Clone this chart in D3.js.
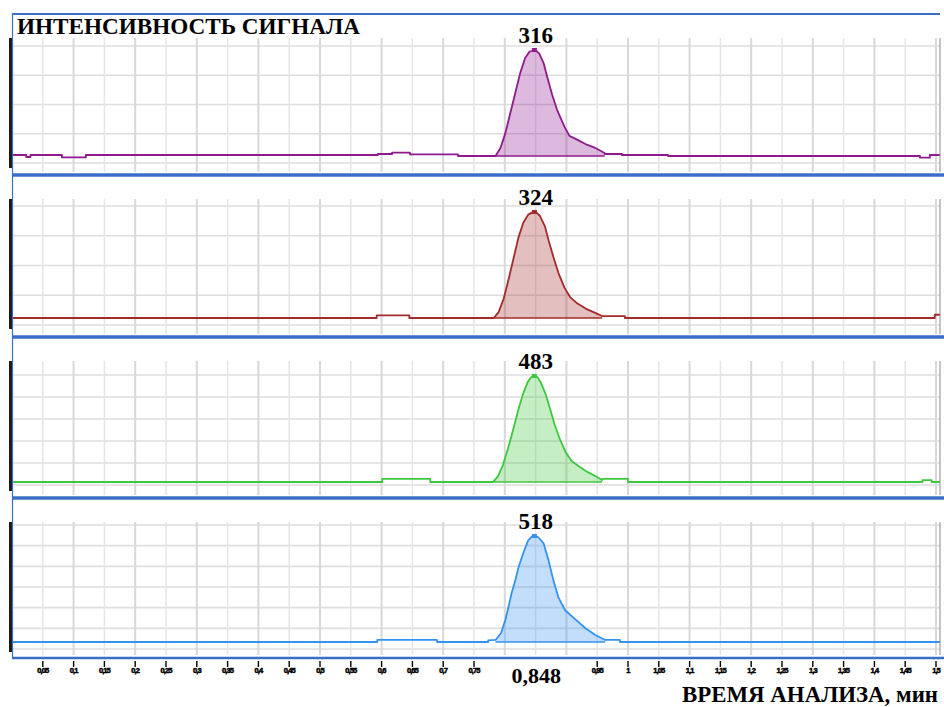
<!DOCTYPE html>
<html>
<head>
<meta charset="utf-8">
<script src="https://cdn.jsdelivr.net/npm/d3@7"></script>
<style>
  html, body { margin: 0; padding: 0; background: #fff; }
  svg { display: block; }
</style>
</head>
<body>
<svg id="chart" width="944" height="707"></svg>
<script>
// ---- data ---------------------------------------------------------------
const chartTitle = "ИНТЕНСИВНОСТЬ СИГНАЛА";
const axisTitle = "ВРЕМЯ АНАЛИЗА, мин";

const peakTime = 0.848;
const peakTimeLabel = "0,848";

const peakLabels = ["316", "324", "483", "518"];
const peakValues = [316, 324, 483, 518];

// integration window of the peak in each trace, min
const peakStarts = [0.785, 0.782, 0.781, 0.785];
const peakEnds   = [0.962, 0.958, 0.958, 0.963];

const xTicks = [0.05, 0.1, 0.15, 0.2, 0.25, 0.3, 0.35, 0.4, 0.45, 0.5,
                0.55, 0.6, 0.65, 0.7, 0.75, 0.8, 0.85, 0.9, 0.95, 1.0,
                1.05, 1.1, 1.15, 1.2, 1.25, 1.3, 1.35, 1.4, 1.45, 1.5];
const xTickLabels = ["0,05", "0,1", "0,15", "0,2", "0,25", "0,3", "0,35", "0,4", "0,45", "0,5",
                     "0,55", "0,6", "0,65", "0,7", "0,75", "0,8", "0,85", "0,9", "0,95", "1",
                     "1,05", "1,1", "1,15", "1,2", "1,25", "1,3", "1,35", "1,4", "1,45", "1,5"];

// traces: [time, intensity]
const trace316 = [
  [0, 3], [0.023, 3], [0.023, -3], [0.030, -3], [0.030, 3], [0.081, 3], [0.081, -4], [0.120, -4],
  [0.120, 3], [0.594, 3], [0.594, 6], [0.617, 6], [0.617, 10], [0.646, 10], [0.646, 5], [0.724, 5],
  [0.724, 0], [0.785, 0], [0.793, 24], [0.801, 69], [0.809, 128], [0.817, 188], [0.825, 247],
  [0.833, 292], [0.840, 311], [0.844, 313], [0.848, 316], [0.852, 312], [0.856, 305], [0.863, 277],
  [0.869, 235], [0.877, 182], [0.885, 137], [0.897, 87], [0.905, 60], [0.918, 48], [0.934, 33],
  [0.947, 24], [0.962, 9], [0.962, 6], [0.990, 6], [0.990, 3], [1.065, 3], [1.065, 0], [1.474, 0],
  [1.474, -5], [1.490, -5], [1.490, 3], [1.5065, 3]
];
const trace324 = [
  [0, 0], [0.592, 0], [0.592, 8], [0.645, 8], [0.645, 0], [0.782, 0], [0.790, 18], [0.798, 58],
  [0.806, 117], [0.814, 181], [0.822, 245], [0.830, 291], [0.838, 316], [0.844, 322], [0.848, 324],
  [0.852, 321], [0.857, 312], [0.865, 281], [0.871, 238], [0.879, 186], [0.887, 138], [0.897, 92],
  [0.906, 64], [0.918, 44], [0.932, 28], [0.945, 17], [0.958, 6], [0.995, 6], [0.995, 0],
  [1.498, 0], [1.498, 10], [1.5065, 10]
];
const trace483 = [
  [0, 0], [0.601, 0], [0.601, 14], [0.679, 14], [0.679, 0], [0.781, 0], [0.789, 27], [0.797, 77],
  [0.805, 150], [0.813, 232], [0.821, 319], [0.829, 397], [0.837, 454], [0.843, 478], [0.848, 483],
  [0.853, 478], [0.858, 456], [0.866, 403], [0.873, 338], [0.881, 261], [0.889, 198], [0.899, 135],
  [0.908, 97], [0.920, 72], [0.934, 46], [0.947, 27], [0.958, 9], [0.958, 14], [1.0, 14], [1.0, 0],
  [1.478, 0], [1.478, 9], [1.493, 9], [1.493, 0], [1.5065, 0]
];
const trace518 = [
  [0, 0], [0.593, 0], [0.593, 10], [0.690, 10], [0.690, 0], [0.773, 0], [0.773, 8], [0.785, 10],
  [0.794, 44], [0.801, 109], [0.806, 171], [0.811, 238], [0.817, 300], [0.822, 363], [0.830, 435],
  [0.838, 497], [0.844, 515], [0.848, 518], [0.854, 513], [0.863, 482], [0.871, 399], [0.879, 300],
  [0.887, 218], [0.898, 155], [0.915, 109], [0.931, 67], [0.947, 34], [0.963, 10], [0.987, 10],
  [0.987, 0], [1.5065, 0]
];
const traces = [trace316, trace324, trace483, trace518];

const lineColors = ["#8e1a8e", "#a32a2a", "#3ec73e", "#3492f0"];

// ---- layout -------------------------------------------------------------
const W = 944, H = 707;
const left = 12, right = 940;
const panelTops = [14, 175, 337, 498];
const bottomY = 658;
const baseOffsets = [142, 143, 145, 144];   // baseline position inside each panel
const peakSpan = 106;                        // pixel height of each peak
const gridRows = [
  { from: 32, to: 149, n: 5 },
  { from: 31, to: 150, n: 5 },
  { from: 38, to: 148, n: 6 },
  { from: 27, to: 151, n: 7 }
];
const borderBlue = "#3a6fc8";
const serif = "'Liberation Serif', 'Times New Roman', serif";

const svg = d3.select("#chart");
svg.append("rect").attr("width", W).attr("height", H).attr("fill", "#fff");

const x = d3.scaleLinear().domain([0, 1.5065]).range([left, right]);

traces.forEach((trace, i) => {
  const top = panelTops[i];
  const panelBottom = (i < 3 ? panelTops[i + 1] : bottomY);
  const g = svg.append("g");

  const y = d3.scaleLinear()
    .domain([0, peakValues[i]])
    .range([top + baseOffsets[i], top + baseOffsets[i] - peakSpan]);

  // graph-paper grid
  const rows = gridRows[i];
  const gy = d3.scaleLinear().domain([0, rows.n - 1]).range([top + rows.from, top + rows.to]);
  g.append("g").selectAll("line").data(d3.range(rows.n)).join("line")
    .attr("x1", left).attr("x2", right)
    .attr("y1", d => gy(d)).attr("y2", d => gy(d))
    .attr("stroke", "#dedede").attr("stroke-width", 1.6);

  g.append("g").selectAll("line").data(xTicks).join("line")
    .attr("x1", d => x(d)).attr("x2", d => x(d))
    .attr("y1", top + 24).attr("y2", panelBottom - 3)
    .attr("stroke", (d, k) => k % 2 ? "#d8d8d8" : "#e6e6e6")
    .attr("stroke-width", (d, k) => k % 2 ? 2 : 1.5);

  // shaded peak area above the integration baseline
  const inPeak = trace.filter(d => d[0] >= peakStarts[i] && d[0] <= peakEnds[i]);
  g.append("path").datum(inPeak)
    .attr("d", d3.area().x(d => x(d[0])).y0(y(0)).y1(d => y(d[1])))
    .attr("fill", lineColors[i]).attr("fill-opacity", 0.3);

  g.append("line")
    .attr("x1", x(peakStarts[i])).attr("x2", x(peakEnds[i]))
    .attr("y1", y(0)).attr("y2", y(0))
    .attr("stroke", lineColors[i]).attr("stroke-width", 1.6);

  // signal trace
  g.append("path").datum(trace)
    .attr("d", d3.line().x(d => x(d[0])).y(d => y(d[1])))
    .attr("fill", "none").attr("stroke", lineColors[i]).attr("stroke-width", 1.8)
    .attr("stroke-linejoin", "round");

  // apex marker and ion label
  g.append("rect")
    .attr("x", x(peakTime) - 2.5).attr("y", y(peakValues[i]) - 2)
    .attr("width", 5).attr("height", 4)
    .attr("fill", lineColors[i]);

  g.append("text")
    .attr("x", x(peakTime) + 1.5).attr("y", y(peakValues[i]) - 7)
    .attr("text-anchor", "middle")
    .attr("font-family", serif).attr("font-weight", "bold").attr("font-size", 23)
    .attr("fill", "#000")
    .text(peakLabels[i]);

  // left intensity bar and right frame
  g.append("rect").attr("x", 9).attr("y", top + 24).attr("width", 3).attr("height", 130)
    .attr("fill", "#1a1a1a");
  g.append("line").attr("x1", right).attr("x2", right)
    .attr("y1", top + 24).attr("y2", panelBottom - 3)
    .attr("stroke", "#8a8a8a").attr("stroke-width", 1);

  // panel separator
  g.append("line").attr("x1", left).attr("x2", W)
    .attr("y1", panelBottom).attr("y2", panelBottom)
    .attr("stroke", borderBlue).attr("stroke-width", i < 3 ? 3.5 : 2.5);
});

// outer frame
svg.append("line").attr("x1", left).attr("x2", right).attr("y1", 14).attr("y2", 14)
  .attr("stroke", borderBlue).attr("stroke-width", 2);
svg.append("line").attr("x1", left + 0.5).attr("x2", left + 0.5).attr("y1", 13).attr("y2", bottomY)
  .attr("stroke", borderBlue).attr("stroke-width", 1.2);

// title
svg.append("text").attr("x", 17).attr("y", 34)
  .attr("font-family", serif).attr("font-weight", "bold").attr("font-size", 23)
  .attr("textLength", 343).attr("lengthAdjust", "spacingAndGlyphs")
  .attr("fill", "#000").text(chartTitle);

// time axis
const tickData = xTicks.map((t, k) => ({ t, label: xTickLabels[k] }))
  .filter(d => Math.abs(d.t - peakTime) > 0.06);
const axisG = svg.append("g");
axisG.selectAll("line").data(tickData).join("line")
  .attr("x1", d => x(d.t)).attr("x2", d => x(d.t))
  .attr("y1", 661).attr("y2", 667)
  .attr("stroke", "#000").attr("stroke-width", 1.4);
axisG.selectAll("text").data(tickData).join("text")
  .attr("x", d => x(d.t)).attr("y", 673)
  .attr("text-anchor", "middle")
  .attr("font-family", "'Liberation Sans', sans-serif").attr("font-weight", "bold")
  .attr("font-size", 7.5).attr("letter-spacing", -0.9)
  .attr("fill", "#000").attr("stroke", "#000").attr("stroke-width", 0.5)
  .text(d => d.label);

svg.append("text").attr("x", x(peakTime) + 2).attr("y", 683)
  .attr("text-anchor", "middle")
  .attr("font-family", serif).attr("font-weight", "bold").attr("font-size", 22)
  .attr("fill", "#000").text(peakTimeLabel);

svg.append("text").attr("x", 938).attr("y", 702)
  .attr("text-anchor", "end")
  .attr("font-family", serif).attr("font-weight", "bold").attr("font-size", 23)
  .attr("textLength", 256).attr("lengthAdjust", "spacingAndGlyphs")
  .attr("fill", "#000").text(axisTitle);
</script>
</body>
</html>
